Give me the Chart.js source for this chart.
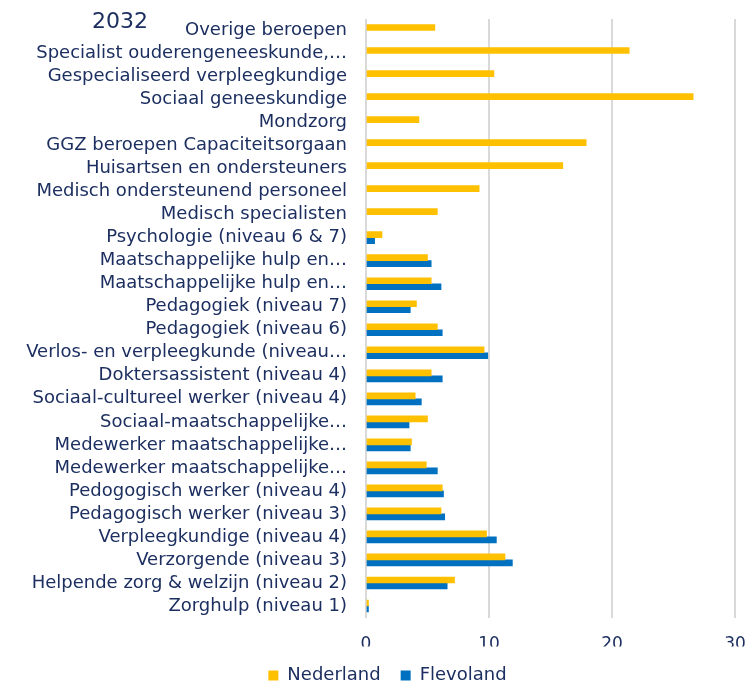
<!DOCTYPE html>
<html>
<head>
<meta charset="utf-8">
<script src="https://cdn.jsdelivr.net/npm/chart.js@4.4.1/dist/chart.umd.min.js"></script>
<style>
  html, body { margin: 0; padding: 0; background: #fff; }
  #wrap { position: relative; width: 750px; height: 682px; }
</style>
</head>
<body>
<div id="wrap"><canvas id="chart"></canvas></div>
<script>
const jaar = "2032";

const beroepen = [
  "Overige beroepen",
  "Specialist ouderengeneeskunde,…",
  "Gespecialiseerd verpleegkundige",
  "Sociaal geneeskundige",
  "Mondzorg",
  "GGZ beroepen Capaciteitsorgaan",
  "Huisartsen en ondersteuners",
  "Medisch ondersteunend personeel",
  "Medisch specialisten",
  "Psychologie (niveau 6 & 7)",
  "Maatschappelijke hulp en…",
  "Maatschappelijke hulp en…",
  "Pedagogiek (niveau 7)",
  "Pedagogiek (niveau 6)",
  "Verlos- en verpleegkunde (niveau…",
  "Doktersassistent (niveau 4)",
  "Sociaal-cultureel werker (niveau 4)",
  "Sociaal-maatschappelijke…",
  "Medewerker maatschappelijke…",
  "Medewerker maatschappelijke…",
  "Pedogogisch werker (niveau 4)",
  "Pedagogisch werker (niveau 3)",
  "Verpleegkundige (niveau 4)",
  "Verzorgende (niveau 3)",
  "Helpende zorg & welzijn (niveau 2)",
  "Zorghulp (niveau 1)"
];

const nederland = [
  5.6, 21.4, 10.4, 26.6, 4.3, 17.9, 16.0, 9.2, 5.8,
  1.3, 5.0, 5.3, 4.1, 5.8, 9.6, 5.3, 4.0, 5.0,
  3.7, 4.9, 6.2, 6.1, 9.8, 11.3, 7.2, 0.2
];

const flevoland = [
  null, null, null, null, null, null, null, null, null,
  0.7, 5.3, 6.1, 3.6, 6.2, 9.9, 6.2, 4.5, 3.5,
  3.6, 5.8, 6.3, 6.4, 10.6, 11.9, 6.6, 0.2
];

const xTicks = [0, 10, 20, 30];

const navy = "#1C2F60";
const font = "'DejaVu Sans', Verdana, sans-serif";

// year label in the top-left corner
const jaarLabel = {
  id: "jaarLabel",
  afterDraw(chart) {
    const ctx = chart.ctx;
    ctx.save();
    ctx.font = "22px " + font;
    ctx.fillStyle = navy;
    ctx.textAlign = "left";
    ctx.textBaseline = "alphabetic";
    ctx.fillText(jaar, 92, 28);
    ctx.restore();
  }
};

// legend sits a bit right of the canvas centre
const legendShift = {
  id: "legendShift",
  afterLayout(chart) {
    chart.legend.left += 40;
  }
};

new Chart(document.getElementById("chart"), {
  type: "bar",
  data: {
    labels: beroepen,
    datasets: [
      { label: "Nederland", data: nederland, backgroundColor: "#FFC000", barThickness: 6 },
      { label: "Flevoland", data: flevoland, backgroundColor: "#0070C0", barThickness: 6 }
    ]
  },
  plugins: [jaarLabel, legendShift],
  options: {
    indexAxis: "y",
    responsive: true,
    maintainAspectRatio: false,
    animation: false,
    layout: { padding: { top: 19, right: 15, bottom: -12.5, left: 0 } },
    scales: {
      x: {
        min: 0,
        max: 30,
        afterBuildTicks(scale) { scale.ticks = xTicks.map(v => ({ value: v })); },
        afterFit(scale) {
          scale.height = 29;
          scale.paddingLeft = 0;
          scale.paddingRight = 0;
        },
        grid: { color: "#D9D9D9", lineWidth: 2, drawTicks: false },
        border: { display: false },
        ticks: { color: navy, font: { family: font, size: 17 }, padding: 17 }
      },
      y: {
        grid: { display: false, drawTicks: false },
        border: { display: false },
        afterFit(scale) {
          scale.width = 366;
          scale.paddingTop = 0;
          scale.paddingBottom = 0;
        },
        ticks: { color: navy, font: { family: font, size: 18 }, padding: 19, autoSkip: false }
      }
    },
    plugins: {
      legend: {
        position: "bottom",
        labels: {
          color: navy,
          font: { family: font, size: 18 },
          boxWidth: 10,
          boxHeight: 10,
          padding: 20
        }
      },
      tooltip: { enabled: false }
    }
  }
});
</script>
</body>
</html>
